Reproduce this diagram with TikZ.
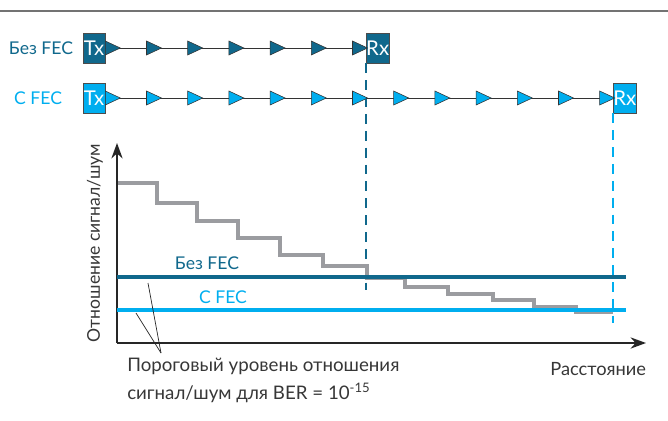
\documentclass[tikz,border=0pt]{standalone}
\usepackage{fontspec}
\setmainfont{Lato}
\usetikzlibrary{shapes.geometric,arrows.meta}
\definecolor{fecdark}{RGB}{16,104,140}
\definecolor{feclight}{RGB}{0,174,239}
\definecolor{stairgray}{RGB}{155,156,160}
\definecolor{textgray}{RGB}{55,55,55}
\tikzset{
    term/.style={draw=black!70, fill=#1, text=white, minimum width=0.55cm,
        minimum height=0.75cm, inner sep=0pt, font=\fontsize{14.5}{16}\selectfont},
    amp/.style={isosceles triangle, isosceles triangle stretches, draw=black!80,
        fill=#1, minimum width=0.35cm, minimum height=0.375cm, inner sep=0pt, anchor=west},
    level/.style={line width=2.2pt},
    guide/.style={dash pattern=on 7pt off 5pt, line width=1.2pt},
}
% #1 prefix, #2 y, #3 last amplifier, #4 colour
\newcommand\RepeaterRow[4]{%
    \node[term=#4] (#1tx) at (94,#2) {Tx};
    \node[term=#4] (#1rx) at ({105+41.2*#3+25.5},#2) {Rx};
    \draw[black!80, line width=0.7pt] (#1tx) -- (#1rx);
    \foreach \i in {0,...,#3}
        \node[amp=#4] (#1amp\i) at ({105+41.2*\i},#2) {};
}

\begin{document}
\begin{tikzpicture}[x=0.025cm, y=-0.025cm, font=\fontsize{12.5}{15}\selectfont, text=textgray]
    \useasboundingbox (0,0) rectangle (668,420);
    \draw[black!55, line width=1.4pt] (0,11) -- (668,11);
    \begin{scope}[color=fecdark] % without FEC
        \node[anchor=east, text=fecdark] (labelA) at (78,48) {Без FEC};
        \RepeaterRow{a}{48}{6}{fecdark}
        \draw[guide] (arx.south west) -- (arx.west |- 0,290) coordinate (guideA);
    \end{scope}
    \begin{scope}[color=feclight] % with FEC
        \node[anchor=east, text=feclight] (labelB) at (67,98) {С FEC};
        \RepeaterRow{b}{98}{12}{feclight}
        \draw[guide] (brx.south west) -- (brx.west |- 0,323) coordinate (guideB);
    \end{scope}
    % axes
    \coordinate (Origin) at (117,343);
    \draw[black!85, line width=1.3pt, -{Stealth[length=11pt,width=8pt]}] (Origin) -- (117,143);
    \draw[black!85, line width=1.3pt, -{Stealth[length=11pt,width=8pt]}] (Origin) -- (646,343);
    \node[rotate=90] (ylabel) at (95,243) {Отношение сигнал/шум};
    \node[anchor=east, font=\fontsize{13}{15}\selectfont] (xlabel) at (651,369) {Расстояние};
    % signal/noise along the line
    \draw[stairgray, level] (118,183) -| (157,203) -| (197,221) -| (238,238) -| (280,255)
        -| (323,266) -| (367,278) -| (405,287) -| (448,294) -| (493,300) -| (534,307)
        -| (576,312) -- (613,312);
    % thresholds
    \draw[fecdark, level] (117,277) -- (626,277);
    \node[text=fecdark] (thrA) at (207,263) {Без FEC};
    \draw[feclight, level] (117,310) -- (626,310);
    \node[text=feclight] (thrB) at (223,297) {С FEC};
    \node[anchor=north west, align=left, inner sep=0pt, font=\fontsize{13.3}{20}\selectfont]
        (note) at (127,358)
        {Пороговый уровень отношения\\сигнал/шум для BER = 10\textsuperscript{-15}};
    \coordinate (noteTip) at (161,353);
    \draw[black!85, line width=0.5pt] (noteTip) -- (148,283);
    \draw[black!85, line width=0.5pt] (noteTip) -- (136,313);
\end{tikzpicture}
\end{document}
